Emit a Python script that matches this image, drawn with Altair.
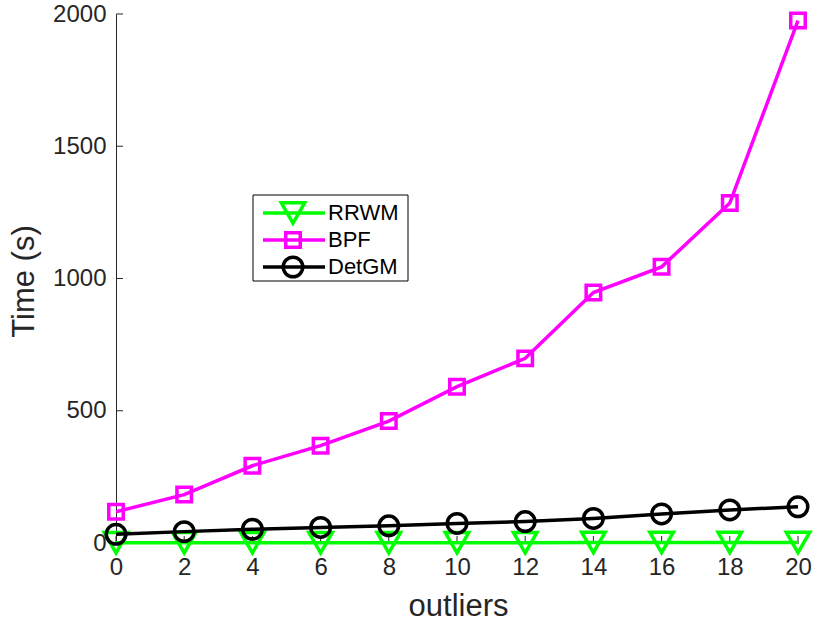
import altair as alt
import pandas as pd

# Runtime (seconds) against number of outliers
outliers = [0, 2, 4, 6, 8, 10, 12, 14, 16, 18, 20]
rrwm = [1, 1, 1, 1, 1, 1, 1, 2, 2, 2, 2]
bpf = [118, 183, 292, 368, 461, 591, 698, 947, 1044, 1285, 1975]
detgm = [33, 43, 52, 59, 65, 74, 81, 93, 110, 125, 137]

series_names = ["RRWM", "BPF", "DetGM"]
series_values = [rrwm, bpf, detgm]
series_colors = ["#00ff00", "#ff00ff", "#000000"]
series_shapes = ["triangle-down", "square", "circle"]
series_sizes = [550, 210, 380]

x_ticks = outliers
y_ticks = [0, 500, 1000, 1500, 2000]

W, H = 682, 529
FONT = "Liberation Sans"
AXIS_GRAY = "#262626"

xs = alt.Scale(domain=[0, 20], nice=False, zero=False)
ys = alt.Scale(domain=[0, 2000], nice=False, zero=False)

x_axis = alt.Axis(
    values=x_ticks, format="d", ticks=False, grid=False, domainColor=AXIS_GRAY,
    domainWidth=1, labelColor=AXIS_GRAY, labelFontSize=24, labelPadding=12,
    labelFont=FONT, labelFlush=False, labelOverlap=False,
    title="outliers", titleFont=FONT, titleFontSize=31, titleFontWeight="normal",
    titleColor=AXIS_GRAY, titleX=342, titleY=72, titleBaseline="alphabetic",
    titleAlign="center",
)
y_axis = alt.Axis(
    values=y_ticks, format="d", ticks=False, grid=False, domainColor=AXIS_GRAY,
    domainWidth=1, labelColor=AXIS_GRAY, labelFontSize=24, labelPadding=10,
    labelFont=FONT, labelFlush=False, labelOverlap=False,
    title="Time (s)", titleFont=FONT, titleFontSize=31, titleFontWeight="normal",
    titleColor=AXIS_GRAY, titleAngle=270, titleX=-83, titleY=267,
    titleBaseline="alphabetic", titleAlign="center",
)

X = alt.X("x:Q", scale=xs, axis=x_axis)
Y = alt.Y("y:Q", scale=ys, axis=y_axis)

layers = []

# inward tick marks
ytick_df = pd.DataFrame({"y": y_ticks})
layers.append(
    alt.Chart(ytick_df).mark_rule(color=AXIS_GRAY, strokeWidth=1).encode(
        y=Y, x=alt.value(0), x2=alt.value(7)
    )
)
xtick_df = pd.DataFrame({"x": x_ticks})
layers.append(
    alt.Chart(xtick_df).mark_rule(color=AXIS_GRAY, strokeWidth=1).encode(
        x=X, y=alt.value(H), y2=alt.value(H - 7)
    )
)

# series: line plus hollow markers
for name, vals, col, shp, sz in zip(series_names, series_values, series_colors,
                                    series_shapes, series_sizes):
    df = pd.DataFrame({"x": outliers, "y": vals})
    base = alt.Chart(df).encode(x=X, y=Y)
    layers.append(base.mark_line(color=col, strokeWidth=3.5))
    layers.append(
        base.mark_point(shape=shp, size=sz, filled=False, color=col,
                        strokeWidth=3.5, opacity=1)
    )

# legend box
one = pd.DataFrame({"k": [0]})
layers.append(
    alt.Chart(one).mark_rect(fill="white", stroke="black", strokeWidth=1).encode(
        x=alt.value(137), x2=alt.value(292), y=alt.value(181), y2=alt.value(267)
    )
)
legend_rows = [199, 226, 253]
for name, col, shp, sz, ly in zip(series_names, series_colors, series_shapes,
                                  series_sizes, legend_rows):
    layers.append(
        alt.Chart(one).mark_rule(color=col, strokeWidth=3.5).encode(
            x=alt.value(147), x2=alt.value(209), y=alt.value(ly)
        )
    )
    layers.append(
        alt.Chart(one).mark_point(shape=shp, size=sz, filled=False, color=col,
                                  strokeWidth=3.5, opacity=1).encode(
            x=alt.value(177), y=alt.value(ly)
        )
    )
    layers.append(
        alt.Chart(one).mark_text(align="left", baseline="middle", font=FONT,
                                 fontSize=22, color="black").encode(
            x=alt.value(212), y=alt.value(ly), text=alt.value(name)
        )
    )

chart = (
    alt.layer(*layers)
    .properties(
        width=W, height=H,
        autosize=alt.AutoSizeParams(type="none"),
        padding={"left": 116, "top": 14, "right": 17, "bottom": 78},
        background="white",
    )
    .configure_view(stroke=None)
)

chart.save("out.html", embed_options={"renderer": "svg", "actions": False})
